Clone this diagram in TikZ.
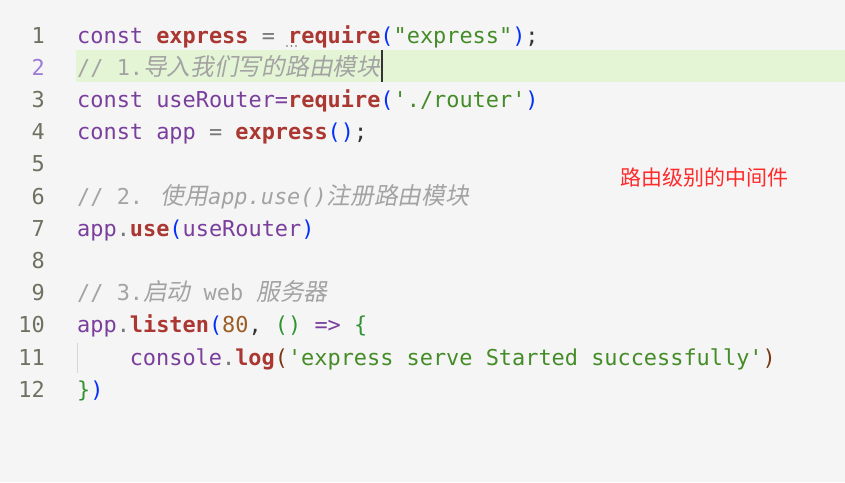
\documentclass[tikz,border=0pt]{standalone}
\usepackage{fontspec}
\newfontfamily\codefont{DejaVu Sans Mono}[Ligatures=TeXOff]
\newfontfamily\cjkitfont{Noto Sans CJK SC}[FakeSlant=0.2]
\newfontfamily\cjkfont{Noto Sans CJK SC}
\definecolor{bgc}{HTML}{F5F5F5}
\definecolor{hlc}{HTML}{E4F5D6}
\definecolor{kwc}{HTML}{7A3E9D}
\definecolor{fnc}{HTML}{AA3731}
\definecolor{strc}{HTML}{448C27}
\definecolor{paac}{HTML}{0431FA}
\definecolor{pabc}{HTML}{319331}
\definecolor{pacc}{HTML}{7B3814}
\definecolor{numc}{HTML}{9C5D27}
\definecolor{punc}{HTML}{333333}
\definecolor{dotc}{HTML}{777777}
\definecolor{comc}{HTML}{A3A3A3}
\definecolor{lnc}{HTML}{6F7060}
\definecolor{lnac}{HTML}{9E7BD6}
\definecolor{notec}{HTML}{FF2A2A}
\definecolor{guidec}{HTML}{D6D6D6}
\newcommand\ckw[1]{\textcolor{kwc}{#1}}
\newcommand\cfn[1]{\textcolor{fnc}{\bfseries #1}}
\newcommand\cstr[1]{\textcolor{strc}{#1}}
\newcommand\cpa[1]{\textcolor{paac}{#1}}
\newcommand\cpb[1]{\textcolor{pabc}{#1}}
\newcommand\cpc[1]{\textcolor{pacc}{#1}}
\newcommand\cnum[1]{\textcolor{numc}{#1}}
\newcommand\cpun[1]{\textcolor{punc}{#1}}
\newcommand\cdotc[1]{\textcolor{dotc}{#1}}
\newcommand\cjkc[1]{{\cjkitfont\fontsize{23.7}{28}\selectfont #1}}
\begin{document}
\begin{tikzpicture}[x=1pt,y=-1pt,
  codeline/.style={anchor=base west,inner sep=0pt,font=\codefont\fontsize{21.9}{26}\selectfont,text=punc},
  comline/.style={codeline,text=comc},
  lnum/.style={anchor=base east,inner sep=0pt,font=\codefont\fontsize{21.9}{26}\selectfont,text=lnc},
  lnumact/.style={lnum,text=lnac},
  notestyle/.style={anchor=base west,inner sep=0pt,font=\cjkfont\fontsize{21}{25}\selectfont,text=notec},
  hlbar/.style={fill=hlc},
  cursorline/.style={draw=black!80,line width=1.4pt},
  guide/.style={draw=guidec,line width=1pt},
  tinydot/.style={fill=black!60}]
\useasboundingbox[fill=bgc] (0,0) rectangle (845,482);
\fill[hlbar] (76,50) rectangle (845,82);
% line numbers
\foreach \n in {1,3,4,5,6,7,8,9,10,11,12}
  \node[lnum] (n\n) at (45,{43+(\n-1)*32.2}) {\n};
\node[lnumact] (n2) at (45,75.2) {2};
% code
\node[codeline] (l1) at (77,43) {\ckw{const} \cfn{express} \cdotc{=} \cfn{require}\cpa{(}\cstr{"express"}\cpa{)}\cpun{;}};
\node[comline] (l2) at (77,75.2) {// 1.\cjkc{导入我们写的路由模块}};
\node[codeline] (l3) at (77,107.4) {\ckw{const} \ckw{useRouter=}\cfn{require}\cpa{(}\cstr{'./router'}\cpa{)}};
\node[codeline] (l4) at (77,139.6) {\ckw{const} \ckw{app} \cdotc{=} \cfn{express}\cpa{()}\cpun{;}};
\node[comline] (l6) at (77,204) {// 2. \cjkc{使用}\textit{app.use()}\cjkc{注册路由模块}};
\node[codeline] (l7) at (77,236.2) {\ckw{app}\cdotc{.}\cfn{use}\cpa{(}\ckw{useRouter}\cpa{)}};
\node[comline] (l9) at (77,300.6) {// 3.\cjkc{启动} web \cjkc{服务器}};
\node[codeline] (l10) at (77,332.8) {\ckw{app}\cdotc{.}\cfn{listen}\cpa{(}\cnum{80}\cpun{,} \cpb{()} \ckw{=>} \cpb{\{}};
\node[codeline] (l11) at (129.6,365) {\ckw{console}\cdotc{.}\cfn{log}\cpc{(}\cstr{'express serve Started successfully'}\cpc{)}};
\node[codeline] (l12) at (77,397.2) {\cpb{\}}\cpa{)}};
% decorations
\draw[cursorline] (382,50) -- (382,82);
\draw[guide] (77,343) -- (77,373);
\foreach \dx in {287,291.5,296}
  \fill[tinydot] (\dx,46) circle (0.8);
% note
\node[notestyle] (note) at (620,185) {路由级别的中间件};
\end{tikzpicture}
\end{document}
